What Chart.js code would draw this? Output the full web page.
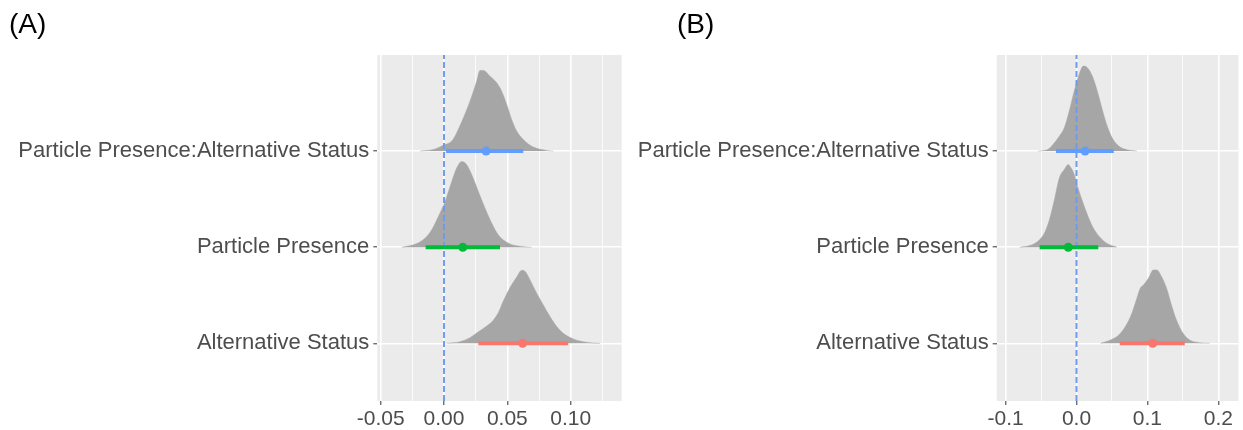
<!DOCTYPE html>
<html>
<head>
<meta charset="utf-8">
<title>Posterior distributions (A) and (B)</title>
<script src="https://cdn.jsdelivr.net/npm/chart.js@4.4.1/dist/chart.umd.min.js"></script>
<style>
    body { margin: 0; background: #ffffff; width: 1243px; height: 430px; overflow: hidden; font-family: "Liberation Sans", Arial, sans-serif; }
    canvas { position: absolute; top: 0; }
    .rotulo { position: absolute; top: 10px; font-size: 28px; line-height: 28px; color: #000000; }
</style>
</head>
<body>
<canvas id="graficoA" width="632" height="430" style="left:0px"></canvas>
<canvas id="graficoB" width="611" height="430" style="left:632px"></canvas>
<div class="rotulo" style="left:9px">(A)</div>
<div class="rotulo" style="left:677px">(B)</div>
<script>
// categorias de baixo para cima (linha 1, 2, 3)
var categorias = ["Alternative Status", "Particle Presence", "Particle Presence:Alternative Status"];
var coresCategorias = ["#F8766D", "#00BA38", "#619CFF"];

// ---- painel A ----
var ticksA = [-0.05, -0.025, 0, 0.025, 0.05, 0.075, 0.1, 0.125];
var rotulosTicksA = ["-0.05", "", "0.00", "", "0.05", "", "0.10", ""];

var densAltA_x = [0.002, 0.0126, 0.0205, 0.0271, 0.0337, 0.0389, 0.0429, 0.0468, 0.0521, 0.0574, 0.0613, 0.0639, 0.0679, 0.0732, 0.0784, 0.0837, 0.089, 0.0942, 0.1021, 0.1127, 0.1232];
var densAltA_h = [0, 0.017, 0.059, 0.12, 0.18, 0.24, 0.32, 0.44, 0.58, 0.69, 0.76, 0.75, 0.66, 0.521, 0.399, 0.278, 0.174, 0.104, 0.045, 0.01, 0];

var densPartA_x = [-0.0334, -0.0229, -0.015, -0.0097, -0.0045, 0.0008, 0.0061, 0.01, 0.014, 0.0179, 0.0219, 0.0271, 0.0324, 0.0377, 0.0429, 0.0508, 0.0613, 0.0692];
var densPartA_h = [0, 0.031, 0.094, 0.181, 0.319, 0.476, 0.684, 0.823, 0.892, 0.858, 0.753, 0.58, 0.406, 0.25, 0.128, 0.042, 0.007, 0];

var densInterA_x = [-0.0189, -0.0084, -0.0005, 0.0061, 0.01, 0.0153, 0.0205, 0.0258, 0.0284, 0.0311, 0.0363, 0.0416, 0.0455, 0.0495, 0.0534, 0.0574, 0.0626, 0.0705, 0.0811, 0.0863];
var densInterA_h = [0, 0.017, 0.062, 0.104, 0.191, 0.347, 0.52, 0.728, 0.84, 0.84, 0.78, 0.711, 0.624, 0.486, 0.33, 0.208, 0.121, 0.042, 0.007, 0];

var inicioA  = [0.0271, -0.0145, 0.0016];
var fimA     = [0.0981, 0.0442, 0.0626];
var medianaA = [0.0621, 0.0148, 0.0332];

// ---- painel B ----
var ticksB = [-0.1, -0.05, 0, 0.05, 0.1, 0.15, 0.2];
var rotulosTicksB = ["-0.1", "", "0.0", "", "0.1", "", "0.2"];

var densAltB_x = [0.034, 0.048, 0.0596, 0.0689, 0.0781, 0.0851, 0.0899, 0.0945, 0.1014, 0.1084, 0.113, 0.12, 0.127, 0.1339, 0.1409, 0.1503, 0.1596, 0.1736, 0.1875];
var densAltB_h = [0, 0.035, 0.087, 0.174, 0.313, 0.469, 0.573, 0.608, 0.677, 0.764, 0.764, 0.694, 0.573, 0.399, 0.243, 0.104, 0.035, 0.007, 0];

var densPartB_x = [-0.08, -0.066, -0.0544, -0.0451, -0.0381, -0.0311, -0.0241, -0.0172, -0.0116, -0.0078, -0.0032, 0.0014, 0.0084, 0.0153, 0.0223, 0.0317, 0.0433, 0.0572];
var densPartB_h = [0, 0.017, 0.063, 0.149, 0.288, 0.497, 0.722, 0.809, 0.861, 0.826, 0.757, 0.635, 0.479, 0.34, 0.219, 0.115, 0.038, 0];

var densInterB_x = [-0.0544, -0.0405, -0.0311, -0.0241, -0.0172, -0.0102, -0.0032, 0.0038, 0.0098, 0.0153, 0.0223, 0.0293, 0.0363, 0.0433, 0.0502, 0.0596, 0.0712, 0.0851];
var densInterB_h = [0, 0.017, 0.087, 0.156, 0.243, 0.417, 0.625, 0.799, 0.885, 0.868, 0.781, 0.625, 0.434, 0.26, 0.139, 0.052, 0.014, 0];

var inicioB  = [0.061, -0.052, -0.0288];
var fimB     = [0.1526, 0.0307, 0.0526];
var medianaB = [0.1075, -0.0116, 0.0121];

var yMin = 0.4;
var yMax = 4.0;
var corTexto = "#4D4D4D";

// fundo cinza do painel (estilo ggplot)
var fundoPainel = {
    id: "fundoPainel",
    beforeDraw: function (chart) {
        var a = chart.chartArea;
        var ctx = chart.ctx;
        ctx.save();
        ctx.fillStyle = "#EBEBEB";
        ctx.fillRect(a.left, a.top, a.right - a.left, a.bottom - a.top);
        ctx.restore();
    }
};

function montarDatasets(densX, densH, inicio, fim, mediana) {
    var datasets = [];

    for (var i = 0; i < 3; i++) {
        var base = i + 1;
        var pontos = [];
        for (var j = 0; j < densX[i].length; j++) {
            pontos.push({ x: densX[i][j], y: base + densH[i][j] });
        }
        datasets.push({
            data: pontos,
            showLine: true,
            fill: { value: base },
            backgroundColor: "#A6A6A6",
            borderColor: "#A6A6A6",
            borderWidth: 0.5,
            pointRadius: 0,
            cubicInterpolationMode: "monotone",
            order: 5
        });
    }

    // linha tracejada em zero
    datasets.push({
        data: [{ x: 0, y: yMin }, { x: 0, y: yMax }],
        showLine: true,
        borderColor: "#6F9BEB",
        borderWidth: 2,
        borderDash: [6, 3],
        pointRadius: 0,
        fill: false,
        order: 3
    });

    for (var k = 0; k < 3; k++) {
        datasets.push({
            data: [{ x: inicio[k], y: k + 1 }, { x: fim[k], y: k + 1 }],
            showLine: true,
            borderColor: coresCategorias[k],
            borderWidth: 4,
            borderCapStyle: "butt",
            pointRadius: 0,
            fill: false,
            order: 2
        });
        datasets.push({
            data: [{ x: mediana[k], y: k + 1 }],
            pointRadius: 4.5,
            pointBackgroundColor: coresCategorias[k],
            pointBorderWidth: 0,
            order: 1
        });
    }

    return datasets;
}

function criarGrafico(idCanvas, datasets, ticks, rotulos, xMin, xMax, larguraEixoY, paddingDireita) {
    var config = {
        type: "scatter",
        data: { datasets: datasets },
        plugins: [fundoPainel],
        options: {
            responsive: false,
            devicePixelRatio: 1,
            animation: false,
            layout: { padding: { top: 55, right: paddingDireita, bottom: 0, left: 0 } },
            plugins: {
                legend: { display: false },
                tooltip: { enabled: false }
            },
            scales: {
                x: {
                    type: "linear",
                    min: xMin,
                    max: xMax,
                    afterBuildTicks: function (scale) {
                        scale.ticks = ticks.map(function (v) { return { value: v }; });
                    },
                    afterFit: function (scale) { scale.height = 29; },
                    border: { display: false },
                    grid: {
                        color: "#FFFFFF",
                        lineWidth: function (c) { return c.index % 2 === 0 ? 1.6 : 0.8; },
                        tickColor: function (c) { return c.index % 2 === 0 ? "#333333" : "rgba(0,0,0,0)"; },
                        tickLength: 4,
                        tickWidth: 1
                    },
                    ticks: {
                        autoSkip: false,
                        maxRotation: 0,
                        padding: 2,
                        color: corTexto,
                        font: { family: "Liberation Sans", size: 21 },
                        callback: function (v, i) { return rotulos[i]; }
                    }
                },
                y: {
                    type: "linear",
                    min: yMin,
                    max: yMax,
                    afterBuildTicks: function (scale) {
                        scale.ticks = [{ value: 1 }, { value: 2 }, { value: 3 }];
                    },
                    afterFit: function (scale) { scale.width = larguraEixoY; },
                    border: { display: false },
                    grid: {
                        color: "#FFFFFF",
                        lineWidth: 1.6,
                        tickColor: "#333333",
                        tickLength: 4,
                        tickWidth: 1
                    },
                    ticks: {
                        padding: 4,
                        color: corTexto,
                        font: { family: "Liberation Sans", size: 22 },
                        callback: function (v, i) { return categorias[i]; }
                    }
                }
            }
        }
    };

    new Chart(document.getElementById(idCanvas), config);
}

criarGrafico("graficoA",
    montarDatasets([densAltA_x, densPartA_x, densInterA_x], [densAltA_h, densPartA_h, densInterA_h], inicioA, fimA, medianaA),
    ticksA, rotulosTicksA, -0.0527, 0.1403, 377.3, 10.3);

criarGrafico("graficoB",
    montarDatasets([densAltB_x, densPartB_x, densInterB_x], [densAltB_h, densPartB_h, densInterB_h], inicioB, fimB, medianaB),
    ticksB, rotulosTicksB, -0.1125, 0.2284, 364.7, 2);
</script>
</body>
</html>
